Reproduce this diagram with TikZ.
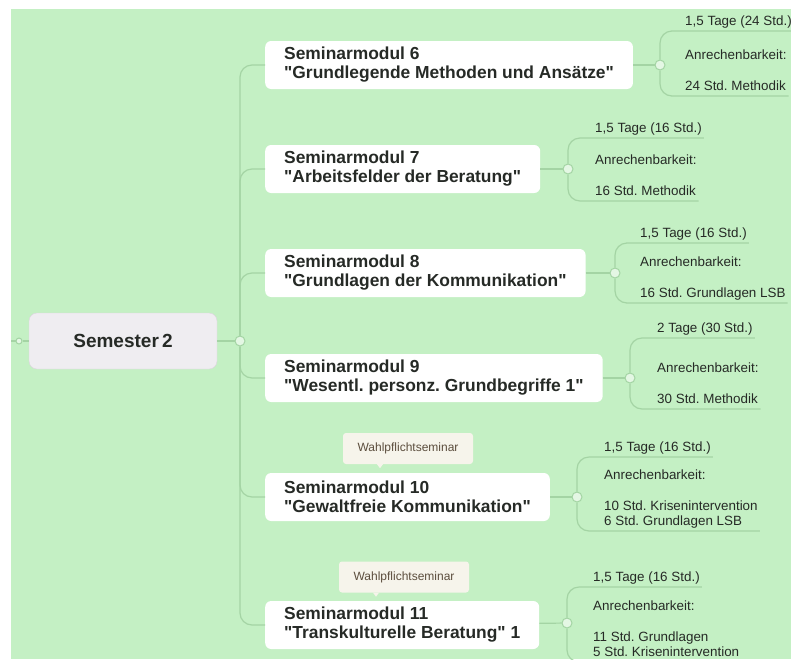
\documentclass[tikz,border=0pt]{standalone}
\usepackage{fontspec}
\setmainfont{Liberation Sans}
\usepackage{tikz}
\usetikzlibrary{positioning, calc}
\definecolor{mapgreen}{RGB}{196,240,196}
\definecolor{branchline}{RGB}{164,212,164}
\definecolor{hubfill}{RGB}{228,247,228}
\definecolor{semfill}{RGB}{239,237,241}
\definecolor{semline}{RGB}{220,212,222}
\definecolor{tagfill}{RGB}{246,244,235}
\definecolor{tagtext}{RGB}{92,78,62}
\definecolor{textdark}{RGB}{38,42,38}
\newcommand{\dq}{\textquotedbl}
\frenchspacing

\begin{document}
\begin{tikzpicture}[x=1pt, y=-1pt,
  semester/.style={rectangle, rounded corners=8pt, fill=semfill, draw=semline,
             minimum width=188pt, minimum height=56pt, text=textdark,
             font=\fontsize{19}{22}\selectfont\bfseries},
  modul/.style={rectangle, rounded corners=6pt, fill=white, anchor=west,
             minimum height=48pt, inner xsep=19pt, align=left, text=textdark,
             font=\fontsize{17.4}{19}\selectfont\bfseries},
  info/.style={anchor=south west, inner xsep=2pt, inner ysep=1pt, align=left,
             text=textdark, font=\fontsize{13.4}{15}\selectfont},
  tag/.style={rectangle, rounded corners=3pt, fill=tagfill, minimum width=130pt,
             minimum height=31pt, text=tagtext, font=\fontsize{12}{14}\selectfont},
  hub/.style={circle, draw=branchline, fill=hubfill, line width=1pt,
             inner sep=0pt, minimum size=10pt},
  branch/.style={draw=branchline, line width=1.2pt, rounded corners=12pt},
]
\useasboundingbox (0,0) rectangle (791,659);
\fill[white] (0,0) rectangle (791,659);
\fill[mapgreen] (11,9) rectangle (791,659);

% --- Semester ---
\coordinate (edge) at (11,341);
\node[hub, minimum size=6pt] (pre) at (19,341) {};
\node[semester] (sem) at (123,341) {Semester\,2};
\node[hub] (hub) at (240,341) {};

% --- Seminarmodule ---
\node[modul] (m6) at (265,65) {Seminarmodul 6\\\dq Grundlegende Methoden und Ansätze\dq};
\node[modul] (m7) at (265,169) {Seminarmodul 7\\\dq Arbeitsfelder der Beratung\dq};
\node[modul] (m8) at (265,273) {Seminarmodul 8\\\dq Grundlagen der Kommunikation\dq};
\node[modul] (m9) at (265,378) {Seminarmodul 9\\\dq Wesentl. personz. Grundbegriffe 1\dq};
\node[modul] (m10) at (265,497) {Seminarmodul 10\\\dq Gewaltfreie Kommunikation\dq};
\node[modul] (m11) at (265,625) {Seminarmodul 11\\\dq Transkulturelle Beratung\dq{} 1};

\node[tag] (w10) at (408,448.5) {Wahlpflichtseminar};
\node[tag] (w11) at (404,577) {Wahlpflichtseminar};
\foreach \t in {w10,w11}
  \fill[tagfill] ($(\t.south)+(-31,0)$) -- ($(\t.south)+(-25,0)$) -- ($(\t.south)+(-28,4)$) -- cycle;

% --- Details ---
\node[hub] (c6) at (660,65) {};
\node[info] (i6a) at (683,31) {1,5 Tage (24 Std.)\strut};
\node[info] (i6b) at (683,96) {Anrechenbarkeit:\\[16pt]24 Std. Methodik\strut};

\node[hub] (c7) at (568,169) {};
\node[info] (i7a) at (593,138) {1,5 Tage (16 Std.)\strut};
\node[info] (i7b) at (593,201) {Anrechenbarkeit:\\[16pt]16 Std. Methodik\strut};

\node[hub] (c8) at (615,273) {};
\node[info] (i8a) at (638,243) {1,5 Tage (16 Std.)\strut};
\node[info] (i8b) at (638,303) {Anrechenbarkeit:\\[16pt]16 Std. Grundlagen LSB\strut};

\node[hub] (c9) at (630,378) {};
\node[info] (i9a) at (655,338) {2 Tage (30 Std.)\strut};
\node[info] (i9b) at (655,409) {Anrechenbarkeit:\\[16pt]30 Std. Methodik\strut};

\node[hub] (c10) at (577,497) {};
\node[info] (i10a) at (602,457) {1,5 Tage (16 Std.)\strut};
\node[info] (i10b) at (602,531) {Anrechenbarkeit:\\[16pt]10 Std. Krisenintervention\\6 Std. Grundlagen LSB\strut};

\node[hub] (c11) at (567,623) {};
\node[info] (i11a) at (591,587) {1,5 Tage (16 Std.)\strut};
\node[info] (i11b) at (591,662) {Anrechenbarkeit:\\[16pt]11 Std. Grundlagen\\5 Std. Krisenintervention\strut};

% --- Verbindungen ---
\draw[branch] (edge) -- (pre) -- (sem);
\draw[branch] (sem) -- (hub);
\foreach \m in {m6,m7,m8,m9,m10,m11}
  \draw[branch] (hub) |- (\m.west);
\foreach \n in {6,7,8,9,10,11} {
  \draw[branch] (m\n) -- (c\n);
  \draw[branch] (c\n) |- (i\n a.south west) -- (i\n a.south east);
  \draw[branch] (c\n) |- (i\n b.south west) -- (i\n b.south east);
}
\end{tikzpicture}
\end{document}
